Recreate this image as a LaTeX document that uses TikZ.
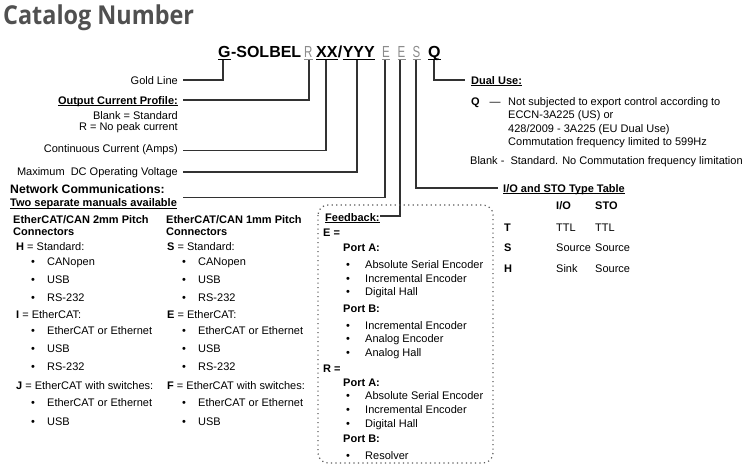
\documentclass[tikz,border=0pt]{standalone}
\usepackage{fontspec}
\usepackage{graphicx}
\setmainfont{Liberation Sans}
\newfontfamily\titlefont{Open Sans}
\definecolor{titlegray}{RGB}{80,80,80}
\definecolor{codegray}{RGB}{140,140,140}
\definecolor{linegray}{RGB}{50,50,50}
\definecolor{dotgray}{RGB}{90,90,90}
\newcommand\uln[1]{\setbox0\hbox{#1}\rlap{\rule[-2.2pt]{\wd0}{0.8pt}}\box0}
\newcommand\narrowch[1]{\scalebox{0.72}[1]{#1}}
\begin{document}
\begin{tikzpicture}[x=1pt,y=-1pt,
  every node/.style={inner sep=0pt, font=\fontsize{11}{13}\selectfont},
  txt/.style={anchor=base west},
  rtxt/.style={anchor=base east},
  btxt/.style={anchor=base west, font=\fontsize{11}{13}\selectfont\bfseries},
  brtxt/.style={anchor=base east, font=\fontsize{11}{13}\selectfont\bfseries},
  code/.style={anchor=base west, font=\fontsize{16}{18}\selectfont\bfseries},
  greycode/.style={anchor=base west, text=codegray, font=\fontsize{16}{18}\selectfont},
  conn/.style={draw=linegray, line width=1.1pt},
  ulblack/.style={draw=black, line width=0.9pt},
  ulgrey/.style={draw=codegray, line width=0.9pt},
  dotbox/.style={draw=dotgray, line width=1.2pt, dash pattern=on 1.2pt off 3.3pt, rounded corners=10pt}]
\useasboundingbox (0,0) rectangle (750,472);

% title
\node[anchor=base west, text=titlegray, font=\titlefont\fontsize{26}{28}\selectfont\bfseries] (title) at (3,24) {\scalebox{0.9}[1]{Catalog Number}};

% catalog number
\node[code] (sG) at (218,57) {G};
\node[code] (sSol) at (sG.base east) {-SOLBEL};
\node[greycode] (sR) at (304,57) {\narrowch{R}};
\node[code] (sXX) at (316,57) {XX};
\node[code] (sSl) at (sXX.base east) {/};
\node[code] (sYYY) at (sSl.base east) {YYY};
\node[greycode] (sE1) at (382,57) {\narrowch{E}};
\node[greycode] (sE2) at (397.5,57) {\narrowch{E}};
\node[greycode] (sS) at (412.5,57) {\narrowch{S}};
\node[code] (sQ) at (428,57) {Q};

\draw[ulblack] ([yshift=-2.5pt]sG.base west) -- ([yshift=-2.5pt]sG.base east);
\draw[ulgrey] ([yshift=-2.5pt]sR.base west) -- ([yshift=-2.5pt]sR.base east);
\draw[ulblack] ([yshift=-2.5pt]sXX.base west) -- ([yshift=-2.5pt]sXX.base east);
\draw[ulblack] ([yshift=-2.5pt]sYYY.base west) -- ([yshift=-2.5pt]sYYY.base east);
\draw[ulgrey] ([yshift=-2.5pt]sE1.base west) -- ([yshift=-2.5pt]sE1.base east);
\draw[ulgrey] ([yshift=-2.5pt]sE2.base west) -- ([yshift=-2.5pt]sE2.base east);
\draw[ulgrey] ([yshift=-2.5pt]sS.base west) -- ([yshift=-2.5pt]sS.base east);
\draw[ulblack] ([yshift=-2.5pt]sQ.base west) -- ([yshift=-2.5pt]sQ.base east);

\coordinate (tG) at (223,59.5);
\coordinate (tR) at (309,59.5);
\coordinate (tX) at (326,59.5);
\coordinate (tY) at (357,59.5);
\coordinate (tE1) at (385,59.5);
\coordinate (tE2) at (400,59.5);
\coordinate (tS) at (416,59.5);
\coordinate (tQ) at (434,59.5);

\coordinate (cGold) at (183,80);
\coordinate (cOut) at (183,100);
\coordinate (cCont) at (183,150.5);
\coordinate (cMax) at (183,172);
\coordinate (cNet) at (183,197.5);
\coordinate (cFb) at (380,216);
\coordinate (cIO) at (498,188);
\coordinate (cDual) at (465,80);

\draw[conn] (tG) |- (cGold);
\draw[conn] (tR) |- (cOut);
\draw[conn] (tX) |- (cCont);
\draw[conn] (tY) |- (cMax);
\draw[conn] (tE1) |- (cNet);
\draw[conn] (tE2) |- (cFb);
\draw[conn] (tS) |- (cIO);
\draw[conn] (tQ) |- (cDual);

% left labels
\node[rtxt] (gold) at (178,84) {Gold Line};
\node[brtxt] (outp) at (178,104) {\uln{Output Current Profile:}};
\node[rtxt] (blank) at (178,119) {Blank = Standard};
\node[rtxt] (rnop) at (178,130) {R = No peak current};
\node[rtxt] (cont) at (178,152) {Continuous Current (Amps)};
\node[rtxt] (maxv) at (178,175) {Maximum~~DC Operating Voltage};
\node[anchor=base west, font=\fontsize{12.2}{14}\selectfont\bfseries] (net) at (10,193.5) {Network Communications:};
\node[btxt] (two) at (10,206.5) {\uln{Two separate manuals available}};

% dual use
\node[btxt] (dual) at (471,84) {\uln{Dual Use:}};
\node[btxt] (qlab) at (471,105.5) {Q};
\node[txt] (qdash) at (489.5,105.5) {—};
\node[txt] (qt1) at (508,105.5) {Not subjected to export control according to};
\node[txt] (qt2) at (508,118.5) {ECCN-3A225 (US) or};
\node[txt] (qt3) at (508,132) {428/2009 - 3A225 (EU Dual Use)};
\node[txt] (qt4) at (508,145.5) {Commutation frequency limited to 599Hz};
\node[txt] (blk) at (470,164) {Blank -~~Standard. No Commutation frequency limitation};

% I/O table
\node[btxt] (iot) at (503,192) {\uln{I/O and STO Type Table}};
\node[btxt] (ioh1) at (556,209) {I/O};
\node[btxt] (ioh2) at (595,209) {STO};
\node[btxt] (iT) at (504,231) {T};
\node[txt] (iT1) at (556,231) {TTL};
\node[txt] (iT2) at (595,231) {TTL};
\node[btxt] (iS) at (504,251) {S};
\node[txt] (iS1) at (556,251) {Source};
\node[txt] (iS2) at (595,251) {Source};
\node[btxt] (iH) at (504,272) {H};
\node[txt] (iH1) at (556,272) {Sink};
\node[txt] (iH2) at (595,272) {Source};

% feedback box
\draw[dotbox] (318,205) rectangle (493,463);
\node[btxt] (fb) at (325,221) {\uln{Feedback:}};
\node[btxt] (fE) at (323,236) {E =};
\node[btxt] (fEA) at (343,251) {Port A:};
\node[txt] (fb1) at (346,268) {\textbullet}; \node[txt] (ft1) at (365,268) {Absolute Serial Encoder};
\node[txt] (fb2) at (346,282) {\textbullet}; \node[txt] (ft2) at (365,282) {Incremental Encoder};
\node[txt] (fb3) at (346,295) {\textbullet}; \node[txt] (ft3) at (365,295) {Digital Hall};
\node[btxt] (fEB) at (343,312) {Port B:};
\node[txt] (fb4) at (346,329) {\textbullet}; \node[txt] (ft4) at (365,329) {Incremental Encoder};
\node[txt] (fb5) at (346,342) {\textbullet}; \node[txt] (ft5) at (365,342) {Analog Encoder};
\node[txt] (fb6) at (346,356) {\textbullet}; \node[txt] (ft6) at (365,356) {Analog Hall};
\node[btxt] (fR) at (323,372) {R =};
\node[btxt] (fRA) at (343,386) {Port A:};
\node[txt] (fb7) at (346,399) {\textbullet}; \node[txt] (ft7) at (365,399) {Absolute Serial Encoder};
\node[txt] (fb8) at (346,413) {\textbullet}; \node[txt] (ft8) at (365,413) {Incremental Encoder};
\node[txt] (fb9) at (346,427) {\textbullet}; \node[txt] (ft9) at (365,427) {Digital Hall};
\node[btxt] (fRB) at (343,442) {Port B:};
\node[txt] (fb10) at (346,459) {\textbullet}; \node[txt] (ft10) at (365,459) {Resolver};

% column 1
\node[btxt] (c1h1) at (13,223) {EtherCAT/CAN 2mm Pitch};
\node[btxt] (c1h2) at (13,235.5) {Connectors};
\node[txt] (c1a) at (16,250) {\textbf{H} = Standard:};
\node[txt] (c1b1) at (31,265) {\textbullet}; \node[txt] (c1t1) at (47,265) {CANopen};
\node[txt] (c1b2) at (31,283) {\textbullet}; \node[txt] (c1t2) at (47,283) {USB};
\node[txt] (c1b3) at (31,301) {\textbullet}; \node[txt] (c1t3) at (47,301) {RS-232};
\node[txt] (c1i) at (16,318) {\textbf{I} = EtherCAT:};
\node[txt] (c1b4) at (31,334) {\textbullet}; \node[txt] (c1t4) at (47,334) {EtherCAT or Ethernet};
\node[txt] (c1b5) at (31,352) {\textbullet}; \node[txt] (c1t5) at (47,352) {USB};
\node[txt] (c1b6) at (31,370) {\textbullet}; \node[txt] (c1t6) at (47,370) {RS-232};
\node[txt] (c1j) at (16,389) {\textbf{J} = EtherCAT with switches:};
\node[txt] (c1b7) at (31,406) {\textbullet}; \node[txt] (c1t7) at (47,406) {EtherCAT or Ethernet};
\node[txt] (c1b8) at (31,425) {\textbullet}; \node[txt] (c1t8) at (47,425) {USB};

% column 2
\node[btxt] (c2h1) at (166,223) {EtherCAT/CAN 1mm Pitch};
\node[btxt] (c2h2) at (166,235.5) {Connectors};
\node[txt] (c2a) at (167,250) {\textbf{S} = Standard:};
\node[txt] (c2b1) at (182,265) {\textbullet}; \node[txt] (c2t1) at (198,265) {CANopen};
\node[txt] (c2b2) at (182,283) {\textbullet}; \node[txt] (c2t2) at (198,283) {USB};
\node[txt] (c2b3) at (182,301) {\textbullet}; \node[txt] (c2t3) at (198,301) {RS-232};
\node[txt] (c2e) at (167,318) {\textbf{E} = EtherCAT:};
\node[txt] (c2b4) at (182,334) {\textbullet}; \node[txt] (c2t4) at (198,334) {EtherCAT or Ethernet};
\node[txt] (c2b5) at (182,352) {\textbullet}; \node[txt] (c2t5) at (198,352) {USB};
\node[txt] (c2b6) at (182,370) {\textbullet}; \node[txt] (c2t6) at (198,370) {RS-232};
\node[txt] (c2f) at (167,389) {\textbf{F} = EtherCAT with switches:};
\node[txt] (c2b7) at (182,406) {\textbullet}; \node[txt] (c2t7) at (198,406) {EtherCAT or Ethernet};
\node[txt] (c2b8) at (182,425) {\textbullet}; \node[txt] (c2t8) at (198,425) {USB};
\end{tikzpicture}
\end{document}
